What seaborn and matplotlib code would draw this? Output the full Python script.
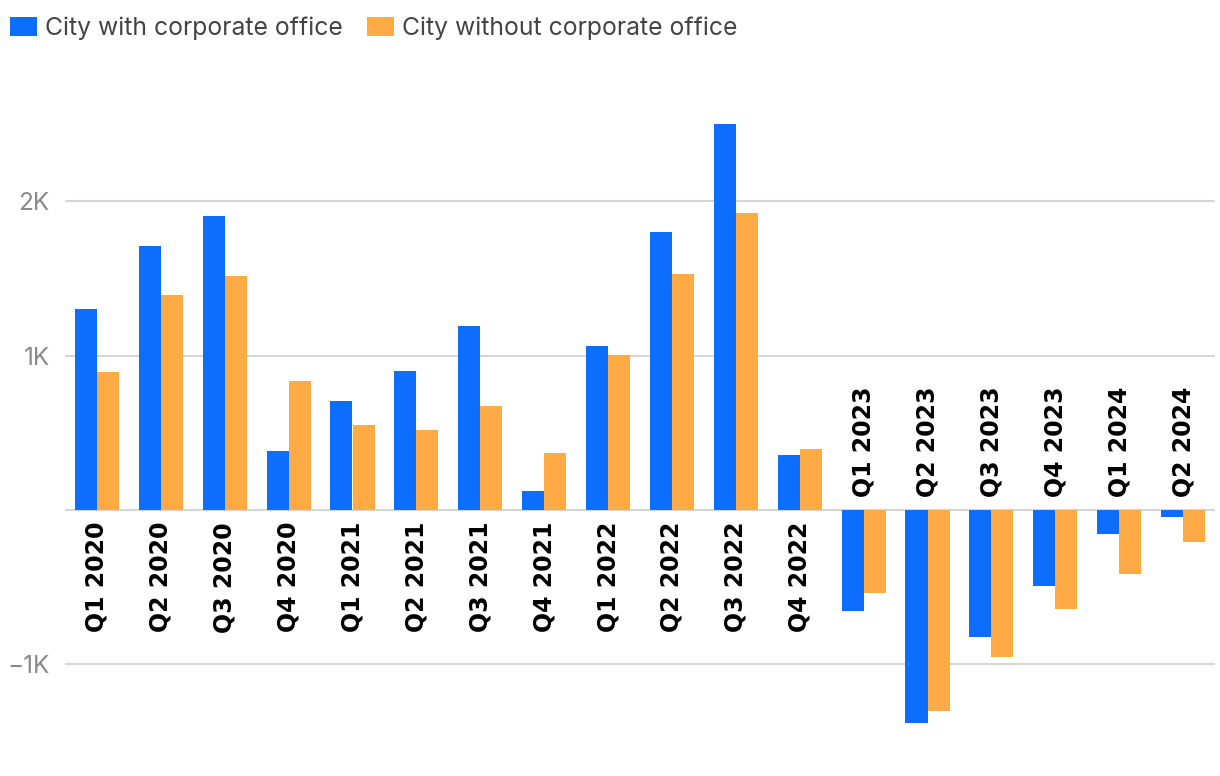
import matplotlib
matplotlib.use("Agg")
import matplotlib.pyplot as plt
import matplotlib.transforms as mtransforms
from matplotlib.patches import Patch
import seaborn as sns
import pandas as pd

quarters = ["Q1 2020", "Q2 2020", "Q3 2020", "Q4 2020",
            "Q1 2021", "Q2 2021", "Q3 2021", "Q4 2021",
            "Q1 2022", "Q2 2022", "Q3 2022", "Q4 2022",
            "Q1 2023", "Q2 2023", "Q3 2023", "Q4 2023",
            "Q1 2024", "Q2 2024"]
with_office = [1300, 1709, 1903, 382, 705, 900, 1191, 123, 1061, 1799, 2498, 356,
               -654, -1379, -822, -492, -155, -45]
without_office = [893, 1392, 1515, 835, 550, 518, 673, 369, 1003, 1528, 1922, 395,
                  -537, -1301, -951, -641, -414, -207]
series_names = ["City with corporate office", "City without corporate office"]
colors = ["#0d6efd", "#ffab45"]
ytick_vals = [-1000, 0, 1000, 2000]
ytick_labels = ["\u22121K", "", "1K", "2K"]

df = pd.DataFrame({
    "quarter": quarters * 2,
    "value": with_office + without_office,
    "series": [series_names[0]] * len(quarters) + [series_names[1]] * len(quarters),
})

sns.set_style("white")
plt.rcParams["font.family"] = ["Inter", "DejaVu Sans"]

fig = plt.figure(figsize=(12.2, 7.76), dpi=100)
ax = fig.add_axes([65 / 1220, 36 / 776, 1150 / 1220, 650 / 776])

sns.barplot(data=df, x="quarter", y="value", hue="series", order=quarters,
            hue_order=series_names, palette=colors, width=0.69, saturation=1,
            ax=ax, legend=False, errorbar=None, linewidth=0, edgecolor="none")

ax.set_xlim(-0.5, len(quarters) - 0.5)
ax.set_ylim(-1490, 2720)
ax.set_yticks(ytick_vals)
ax.set_yticklabels(ytick_labels, color="#8a8a8a", fontsize=17.5)
ax.yaxis.grid(True, color="#d6d6d6", linewidth=1.5, zorder=0)
ax.set_axisbelow(True)
ax.tick_params(axis="y", length=0, pad=11)
ax.set_xticks([])
ax.set_xlabel("")
ax.set_ylabel("")
for s in ax.spines.values():
    s.set_visible(False)

for i, q in enumerate(quarters):
    pos = max(with_office[i], without_office[i]) > 0
    dy = -12 if pos else 13
    tr = mtransforms.offset_copy(ax.transData, fig=fig, x=0, y=dy, units="dots")
    ax.text(i, 0, q, rotation=90, ha="center", va="top" if pos else "bottom",
            fontsize=17, fontweight="bold", color="black", transform=tr,
            family="DejaVu Sans")

handles = [Patch(facecolor=c, edgecolor="none") for c in colors]
fig.legend(handles, series_names, loc="upper left",
           bbox_to_anchor=(10 / 1220, 1 - 17 / 776),
           ncol=2, frameon=False, fontsize=17.8, labelcolor="#444444",
           handlelength=1.1, handleheight=0.8, handletextpad=0.3,
           columnspacing=1.0, borderaxespad=0, borderpad=0)

fig.savefig("out.png", dpi=100)
